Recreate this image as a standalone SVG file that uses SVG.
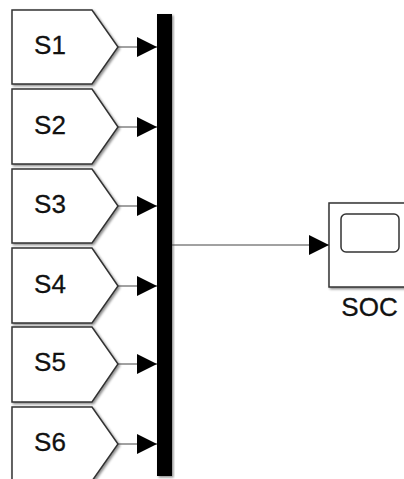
<svg xmlns="http://www.w3.org/2000/svg" width="404" height="479" viewBox="0 0 404 479">
  <defs>
    <filter id="shadow" x="-10%" y="-10%" width="130%" height="130%">
      <feDropShadow dx="1.5" dy="1.5" stdDeviation="1" flood-color="#000" flood-opacity="0.45"/>
    </filter>
    <marker id="arrow" markerUnits="userSpaceOnUse" markerWidth="20" markerHeight="20" refX="20" refY="10" orient="auto" viewBox="0 0 20 20">
      <path d="M0,0 L20,10 L0,20 Z" fill="#000"/>
    </marker>
  </defs>
  <style>
    .blk { fill: #fff; stroke: #333; stroke-width: 1.5; filter: url(#shadow); }
    .lbl { font-family: "Liberation Sans", Arial, sans-serif; font-size: 26px; fill: #111; stroke: #111; stroke-width: 0.3; text-anchor: middle; }
    .wire { stroke: #444; stroke-width: 1; fill: none; marker-end: url(#arrow); }
  </style>
  <rect width="404" height="479" fill="#fff"/>

  <!-- From blocks S1..S6 -->
  <g id="S1"><polygon class="blk" points="12,10 92,10 118,47 92,84 12,84"/><text class="lbl" x="50" y="54">S1</text></g>
  <g id="S2"><polygon class="blk" points="12,89 92,89 118,127 92,164 12,164"/><text class="lbl" x="50" y="134">S2</text></g>
  <g id="S3"><polygon class="blk" points="12,169 92,169 118,206 92,243 12,243"/><text class="lbl" x="50" y="213">S3</text></g>
  <g id="S4"><polygon class="blk" points="12,248 92,248 118,286 92,323 12,323"/><text class="lbl" x="50" y="293">S4</text></g>
  <g id="S5"><polygon class="blk" points="12,327 92,327 118,364 92,402 12,402"/><text class="lbl" x="50" y="371">S5</text></g>
  <g id="S6"><polygon class="blk" points="12,407 92,407 118,444 92,481 12,481"/><text class="lbl" x="50" y="451">S6</text></g>

  <!-- Bus creator -->
  <g id="Mux"><rect x="157" y="14" width="15" height="462" fill="#000" filter="url(#shadow)"/></g>

  <!-- Scope -->
  <g id="SOC">
    <rect class="blk" x="329" y="203" width="86" height="84"/>
    <rect x="341" y="214" width="58" height="38" rx="5" fill="#fff" stroke="#333" stroke-width="1.5"/>
    <text class="lbl" x="369.5" y="316">SOC</text>
  </g>

  <!-- Signal lines -->
  <g id="connectors">
    <line class="wire" x1="118" y1="47" x2="157" y2="47"/>
    <line class="wire" x1="118" y1="127" x2="157" y2="127"/>
    <line class="wire" x1="118" y1="206" x2="157" y2="206"/>
    <line class="wire" x1="118" y1="286" x2="157" y2="286"/>
    <line class="wire" x1="118" y1="364" x2="157" y2="364"/>
    <line class="wire" x1="118" y1="444" x2="157" y2="444"/>
    <line class="wire" x1="172" y1="245" x2="329" y2="245"/>
  </g>
</svg>
